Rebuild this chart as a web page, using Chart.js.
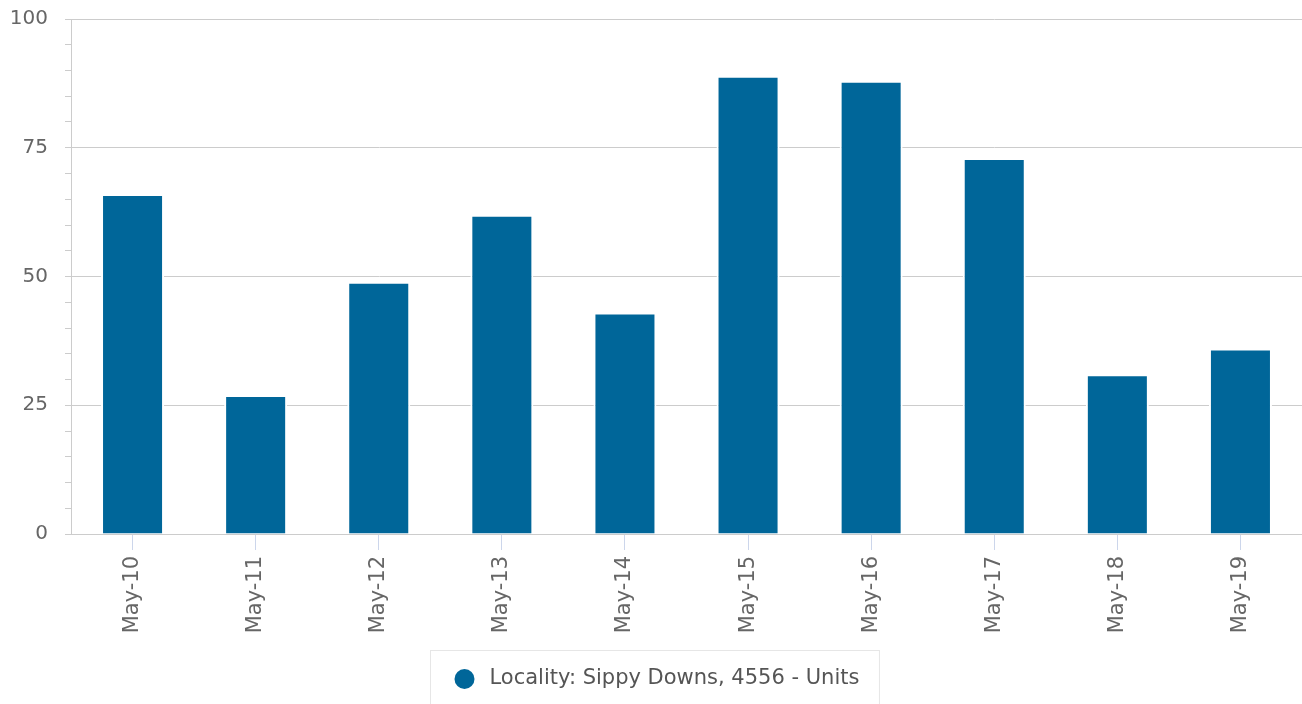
<!DOCTYPE html>
<html>
<head>
<meta charset="utf-8">
<script src="https://cdn.jsdelivr.net/npm/chart.js@4/dist/chart.umd.min.js"></script>
<style>
  html, body { margin: 0; padding: 0; background: #fff; }
  #wrap { width: 1302px; height: 704px; }
</style>
</head>
<body>
<div id="wrap"><canvas id="chart" width="1302" height="704"></canvas></div>
<script>
// Chart data
const categories = ['May-10', 'May-11', 'May-12', 'May-13', 'May-14', 'May-15', 'May-16', 'May-17', 'May-18', 'May-19'];
const unitValues = [66, 27, 49, 62, 43, 89, 88, 73, 31, 36];
const seriesLabel = 'Locality: Sippy Downs, 4556 - Units';
const yMin = 0;
const yMax = 100;

const colors = {
    bar: '#006699',
    grid: '#cccccc',
    xTick: '#ccd6eb',
    label: '#666666',
    legendText: '#555555',
    legendBorder: '#e6e6e6'
};

// Legend drawn as a bordered box below the axis
const boxLegend = {
    id: 'boxLegend',
    afterDraw(chart) {
        const ctx = chart.ctx;
        const ds = chart.data.datasets[0];
        ctx.save();
        ctx.font = '21px "DejaVu Sans"';
        const textW = ctx.measureText(ds.label).width;
        const boxW = 24 + 20 + 15 + textW + 20;
        const boxX = Math.round((chart.width - boxW) / 2) + 3.5;
        const boxY = 650.5;
        ctx.strokeStyle = colors.legendBorder;
        ctx.lineWidth = 1;
        ctx.strokeRect(boxX, boxY, boxW, 70);
        ctx.fillStyle = ds.backgroundColor;
        ctx.beginPath();
        ctx.arc(boxX + 34, 679, 10, 0, Math.PI * 2);
        ctx.fill();
        ctx.fillStyle = colors.legendText;
        ctx.textBaseline = 'middle';
        ctx.textAlign = 'left';
        ctx.fillText(ds.label, boxX + 59, 679);
        ctx.restore();
    }
};

new Chart(document.getElementById('chart').getContext('2d'), {
    type: 'bar',
    data: {
        labels: categories,
        datasets: [{
            label: seriesLabel,
            data: unitValues,
            backgroundColor: colors.bar,
            borderColor: '#ffffff',
            borderWidth: 2,
            barPercentage: 0.512,
            categoryPercentage: 1
        }]
    },
    options: {
        responsive: false,
        animation: false,
        layout: { padding: { top: 19, right: 0, bottom: 0, left: 0 } },
        plugins: {
            legend: { display: false },
            tooltip: { enabled: false }
        },
        scales: {
            x: {
                afterFit(scale) { scale.height = 170; },
                grid: {
                    display: true,
                    offset: false,
                    drawOnChartArea: false,
                    drawTicks: true,
                    tickLength: 16,
                    tickColor: colors.xTick
                },
                border: { color: colors.grid },
                ticks: {
                    autoSkip: false,
                    maxRotation: 90,
                    minRotation: 90,
                    padding: 6,
                    color: colors.label,
                    font: { family: 'DejaVu Sans', size: 21 }
                }
            },
            y: {
                min: yMin,
                max: yMax,
                afterFit(scale) {
                    scale.width = 71;
                    scale.paddingTop = 0;
                    scale.paddingBottom = 0;
                },
                grid: {
                    color: ctx => (ctx.tick && ctx.tick.value % 25 === 0) ? colors.grid : 'rgba(0,0,0,0)',
                    tickColor: colors.grid,
                    tickLength: 6
                },
                border: { color: colors.grid },
                ticks: {
                    stepSize: 5,
                    maxTicksLimit: 30,
                    autoSkip: false,
                    padding: 17,
                    color: colors.label,
                    font: { family: 'DejaVu Sans', size: 20 },
                    callback: v => (v % 25 === 0 ? v : '')
                }
            }
        }
    },
    plugins: [boxLegend]
});
</script>
</body>
</html>
